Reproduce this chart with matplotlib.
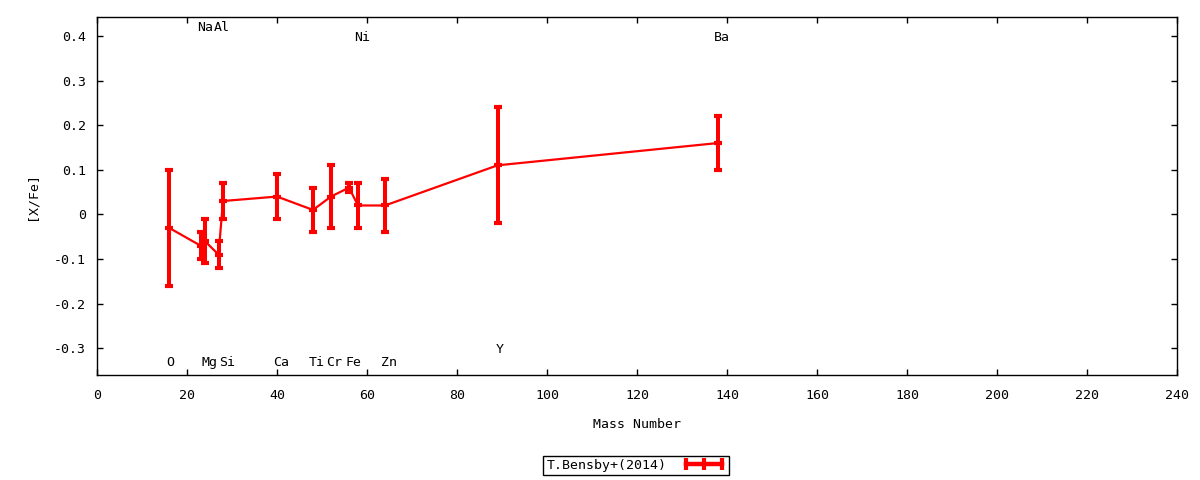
import numpy as np
import matplotlib
matplotlib.use("Agg")
import matplotlib.pyplot as plt
from matplotlib.lines import Line2D
from matplotlib.ticker import MultipleLocator

# element data: mass number, [X/Fe], error
elements = ["O", "Na", "Mg", "Al", "Si", "Ca", "Ti", "Cr", "Fe", "Ni", "Zn", "Y", "Ba"]
mass = [16, 23, 24, 27, 28, 40, 48, 52, 56, 58, 64, 89, 138]
xfe = [-0.03, -0.07, -0.06, -0.09, 0.03, 0.04, 0.01, 0.04, 0.06, 0.02, 0.02, 0.11, 0.16]
err = [0.13, 0.03, 0.05, 0.03, 0.04, 0.05, 0.05, 0.07, 0.01, 0.05, 0.06, 0.13, 0.06]

# element name labels (x, y in data units)
label_names = ["O", "Na", "Mg", "Al", "Si", "Ca", "Ti", "Cr", "Fe", "Ni", "Zn", "Y", "Ba"]
label_x = [16.2, 24.0, 25.0, 27.8, 29.0, 41.0, 48.9, 52.8, 57.0, 59.0, 65.0, 89.4, 138.9]
label_y = [-0.333, 0.419, -0.333, 0.419, -0.333, -0.333, -0.333, -0.333, -0.333, 0.396, -0.333, -0.302, 0.396]

series_name = "T.Bensby+(2014)"

plt.rcParams['font.family'] = ['DejaVu Sans Mono']
plt.rcParams['font.size'] = 9.5

fig = plt.figure(figsize=(12, 4.8), dpi=100)
ax = fig.add_axes([97 / 1200, 1 - 375 / 480, 1080 / 1200, 358 / 480])

red = "#ff0000"
ax.errorbar(mass, xfe, yerr=err, color=red, lw=1.6, elinewidth=2.9,
            capsize=3, capthick=2.2, marker="_", markersize=6, mew=3,
            zorder=3)

for name, lx, ly in zip(label_names, label_x, label_y):
    ax.text(lx, ly, name, ha="center", va="center", fontsize=9.5)

ax.set_xlim(0, 240)
ax.set_ylim(-0.36, 0.4425)
ax.xaxis.set_major_locator(MultipleLocator(20))
ax.yaxis.set_major_locator(MultipleLocator(0.1))
ax.yaxis.set_major_formatter(plt.FuncFormatter(lambda v, p: "%g" % round(v, 3)))
ax.tick_params(direction="in", length=4, width=1, top=True, right=True)
ax.tick_params(axis="x", pad=10)
ax.tick_params(axis="y", pad=8)
for s in ax.spines.values():
    s.set_linewidth(1)

ax.set_xlabel("Mass Number")
ax.xaxis.set_label_coords(0.5, -0.137)
ax.xaxis.label.set_verticalalignment("center")
ax.set_ylabel("[X/Fe]")
ax.yaxis.set_label_coords(-0.060, 0.5)
ax.yaxis.label.set_verticalalignment("center")

handle = Line2D([], [], color=red, lw=3.2, marker="|", markersize=8, mew=3)
leg = fig.legend([handle], [series_name], loc="center", bbox_to_anchor=(0.53, 0.030),
                 markerfirst=False, numpoints=3, handlelength=3.3,
                 fancybox=False, framealpha=1, edgecolor="black",
                 borderpad=0.25, handletextpad=1.2, borderaxespad=0)
leg.get_frame().set_linewidth(1)

fig.savefig("out.png", dpi=100)
